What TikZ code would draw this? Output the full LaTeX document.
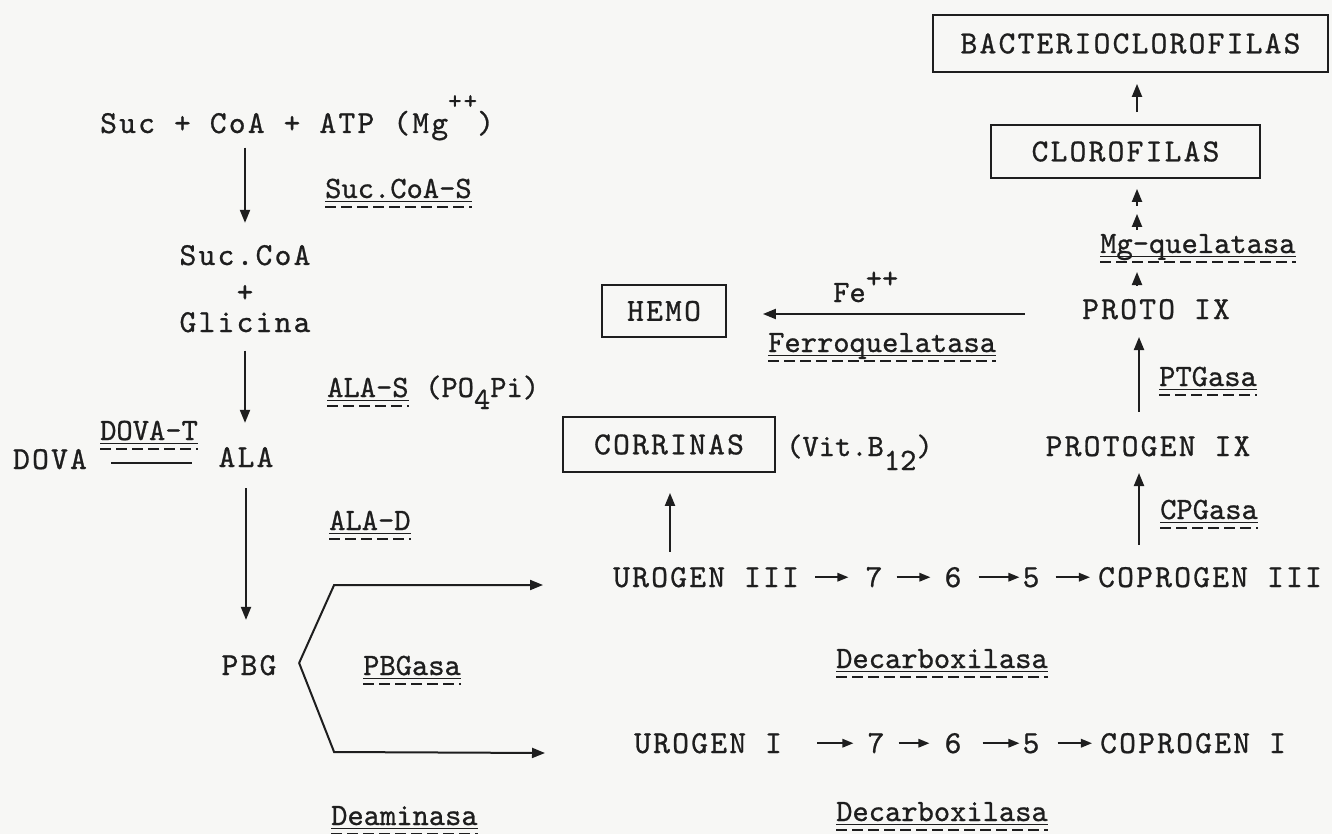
\documentclass[tikz,border=0pt]{standalone}
\usepackage{fontspec}
\newfontfamily\twmain{lmmono10-regular.otf}[LetterSpace=6.9,FakeBold=0.8]
\newfontfamily\twenz{lmmono10-regular.otf}[FakeBold=0.8]
\usetikzlibrary{arrows.meta,calc}
\definecolor{ink}{RGB}{30,30,30}
\definecolor{paper}{RGB}{247,247,245}
\newcommand\enzul[1]{%
  \draw[ink, line width=0.8pt] ([yshift=-3pt]#1.base west) -- ([yshift=-3pt]#1.base east);
  \draw[ink, line width=1.4pt, dash pattern=on 11pt off 5pt] ([yshift=-9pt]#1.base west) -- ([yshift=-9pt]#1.base east);}
\begin{document}
\begin{tikzpicture}[x=1pt,y=-1pt,
  main/.style={font=\twmain\fontsize{32}{36}\selectfont, inner sep=0pt, text=ink},
  enz/.style={font=\twenz\fontsize{31}{36}\selectfont, inner sep=0pt, text=ink},
  conn/.style={draw=ink, line width=2pt, -{Triangle[length=13pt,width=10pt]}},
  rowarr/.style={draw=ink, line width=1.7pt, -{Triangle[length=11pt,width=8.5pt]}},
  plainline/.style={draw=ink, line width=2pt},
  boxed/.style={main, draw=ink, line width=1.8pt}]
\fill[paper] (0,0) rectangle (1332,834);
\useasboundingbox (0,0) rectangle (1332,834);

% ---------- left column ----------
\node[main, anchor=base west] (suc) at (100,133) {Suc + CoA + ATP (Mg\raisebox{24pt}{\fontsize{26}{28}\selectfont ++})};
\node[main, anchor=base] (succoa) at (245,265) {Suc.CoA};
\node[main, anchor=base] (plus) at (245,302) {+};
\node[main, anchor=base] (glic) at (245,332) {Glicina};
\node[main, anchor=base] (ala) at (246,467) {ALA};
\node[main, anchor=base] (dova) at (50,469) {DOVA};
\node[main, anchor=base] (pbg) at (249,675) {PBG};

\node[enz, anchor=base west] (sucs) at (325,198) {Suc.CoA-S};
\node[enz, anchor=base west] (alas) at (327,397) {ALA-S};
\node[enz, anchor=base west] (po) at (425,397) {(PO\raisebox{-12pt}{4}Pi)};
\node[enz, anchor=base west] (dovat) at (100,440) {DOVA-T};
\node[enz, anchor=base west] (alad) at (329,530) {ALA-D};
\node[enz, anchor=base west] (pbgasa) at (363,675) {PBGasa};
\node[enz, anchor=base west] (deam) at (331,825) {Deaminasa};
\enzul{sucs}\enzul{alas}\enzul{dovat}\enzul{alad}\enzul{pbgasa}\enzul{deam}

\draw[conn, shorten <=7pt, shorten >=22pt] (suc.south -| succoa.center) -- (succoa.north);
\draw[conn, shorten <=18pt, shorten >=24pt] (glic.south) -- (glic.south |- ala.north);
\draw[conn, shorten <=21pt, shorten >=35pt] (ala.south) -- (ala.south |- pbg.north);
\draw[plainline, line width=1.2pt] ($(dova.base east)+(24,-6)$) -- ($(ala.base west)+(-26,-4)$);

% ---------- middle ----------
\node[main, anchor=base west] (uro3) at (613,587) {UROGEN III};
\node[main, anchor=base] (a7) at (874,587) {7};
\node[main, anchor=base] (b6) at (953,587) {6};
\node[main, anchor=base] (c5) at (1031,587) {5};
\node[main, anchor=base] (copro3) at (1210,587) {COPROGEN III};
\draw[rowarr, shorten <=16pt, shorten >=17pt] (uro3.east) -- (a7.west |- uro3.east);
\draw[rowarr, shorten <=14pt, shorten >=14pt] (a7.east |- uro3.east) -- (b6.west |- uro3.east);
\draw[rowarr, shorten <=17pt, shorten >=3pt] (b6.east |- uro3.east) -- (c5.west |- uro3.east);
\draw[rowarr, shorten <=16pt, shorten >=8pt] (c5.east |- uro3.east) -- (copro3.west |- uro3.east);

\node[main, anchor=base west] (uro1) at (634,753) {UROGEN I};
\node[main, anchor=base] (d7) at (876,753) {7};
\node[main, anchor=base] (e6) at (953,753) {6};
\node[main, anchor=base] (f5) at (1031,753) {5};
\node[main, anchor=base] (copro1) at (1193,753) {COPROGEN I};
\draw[rowarr, shorten <=35pt, shorten >=14pt] (uro1.east) -- (d7.west |- uro1.east);
\draw[rowarr, shorten <=14pt, shorten >=15pt] (d7.east |- uro1.east) -- (e6.west |- uro1.east);
\draw[rowarr, shorten <=21pt, shorten >=3pt] (e6.east |- uro1.east) -- (f5.west |- uro1.east);
\draw[rowarr, shorten <=18pt, shorten >=8pt] (f5.east |- uro1.east) -- (copro1.west |- uro1.east);

\coordinate (fork) at ($(pbg.base east)+(22.5,-12)$);
\draw[conn] (fork) -- ++(35,-78) -- ($(uro3.base west)+(-70,-2)$);
\draw[conn] (fork) -- ++(35,89) -- ($(uro1.base west)+(-89,0)$);

\node[enz, anchor=base west] (dec1) at (836,668) {Decarboxilasa};
\node[enz, anchor=base west] (dec2) at (836,821) {Decarboxilasa};
\enzul{dec1}\enzul{dec2}

\node[boxed, minimum width=124pt, minimum height=52pt] (hemo) at (664,311) {HEMO};
\node[boxed, minimum width=212pt, minimum height=55pt] (corr) at (669,444.5) {CORRINAS};
\node[enz, anchor=base west] (vit) at (786,456) {(Vit.B\raisebox{-14pt}{12})};
\draw[conn] ($(uro3.north west)+(57,-15)$) -- ($(corr.south)+(1,20)$);

\node[enz, anchor=base west] (fe) at (833,302) {Fe\raisebox{14pt}{++}};
\node[enz, anchor=base west] (ferro) at (768,352) {Ferroquelatasa};
\enzul{ferro}

% ---------- right column ----------
\node[main, anchor=base] (protogen) at (1148,456) {PROTOGEN IX};
\node[main, anchor=base] (proto) at (1156,319) {PROTO IX};
\node[enz, anchor=base west] (ptg) at (1159,386) {PTGasa};
\node[enz, anchor=base west] (cpg) at (1160,519) {CPGasa};
\node[enz, anchor=base west] (mg) at (1100,253) {Mg-quelatasa};
\enzul{ptg}\enzul{cpg}\enzul{mg}
\node[boxed, minimum width=269pt, minimum height=53pt] (cloro) at (1125.5,151.5) {CLOROFILAS};
\node[boxed, minimum width=395pt, minimum height=57pt] (bact) at (1130.5,43.5) {BACTERIOCLOROFILAS};

\draw[conn] ($(copro3.north)+(-71,-22)$) -- ($(protogen.base)+(-9,17)$);
\draw[conn] ($(protogen.north)+(-9,-24)$) -- ($(proto.base)+(-17,18)$);
\draw[conn] ($(proto.base west)+(-57,-5)$) -- ($(hemo.east)+(36,3)$);
\draw[conn] ($(proto.north)+(-19,-13)$) -- ($(mg.base west)+(37,19)$);
\draw[conn] ($(mg.base west)+(37,-23)$) -- ($(cloro.south)+(11.5,35)$);
\draw[conn] ($(cloro.south)+(11.5,27)$) -- ($(cloro.south)+(11.5,10)$);
\draw[conn] ($(cloro.north)+(11.5,-12)$) -- ($(bact.south)+(6.5,11)$);
\end{tikzpicture}
\end{document}
